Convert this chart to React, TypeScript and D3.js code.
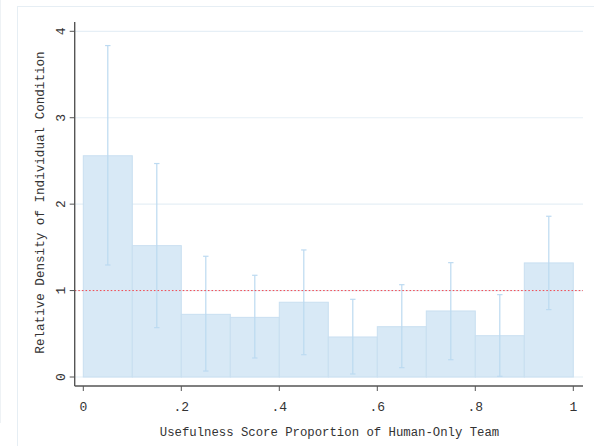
import React from "react";
import * as d3 from "d3";

const binStarts = [0, 0.1, 0.2, 0.3, 0.4, 0.5, 0.6, 0.7, 0.8, 0.9];
const binWidth = 0.1;
const density = [2.56, 1.52, 0.725, 0.69, 0.865, 0.463, 0.582, 0.764, 0.478, 1.32];
const ciHigh = [3.835, 2.47, 1.397, 1.177, 1.47, 0.899, 1.068, 1.323, 0.953, 1.86];
const ciLow = [1.296, 0.571, 0.069, 0.22, 0.258, 0.035, 0.108, 0.2, 0.008, 0.78];
const xTicks = [0, 0.2, 0.4, 0.6, 0.8, 1];
const xTickLabels = ["0", ".2", ".4", ".6", ".8", "1"];
const yTicks = [0, 1, 2, 3, 4];
const refValue = 1;

const W = 594;
const H = 446;
const FONT = "'Liberation Mono', 'DejaVu Sans Mono', monospace";

export default function App() {
  const x = d3.scaleLinear().domain([0, 1]).range([83.3, 573.3]);
  const y = d3.scaleLinear().domain([0, 4]).range([377, 31.3]);
  const axisX = 74.7;
  const axisY = 386;
  const plotRight = 583;

  return (
    <svg
      width={W}
      height={H}
      style={{ position: "absolute", left: 0, top: 0, background: "#fff" }}
    >
      {/* outer frames */}
      <line x1={0.5} y1={0} x2={0.5} y2={423} stroke="#eef2f5" />
      <rect x={17.5} y={6.5} width={W} height={H} fill="none" stroke="#e6eef4" />

      {/* gridlines */}
      {yTicks.map((t) => (
        <line
          key={"g" + t}
          x1={axisX}
          x2={plotRight}
          y1={y(t)}
          y2={y(t)}
          stroke="#e6eff6"
          strokeWidth={1.2}
        />
      ))}

      {/* bars */}
      {binStarts.map((b, i) => (
        <rect
          key={"b" + i}
          x={x(b)}
          y={y(density[i])}
          width={x(b + binWidth) - x(b)}
          height={y(0) - y(density[i])}
          fill="#d8e9f6"
          stroke="#c9dff1"
          strokeWidth={1}
        />
      ))}

      {/* error bars */}
      {binStarts.map((b, i) => {
        const cx = x(b + binWidth / 2);
        return (
          <g key={"e" + i} stroke="#bcdaf1" strokeWidth={1.2}>
            <line x1={cx} x2={cx} y1={y(ciHigh[i])} y2={y(ciLow[i])} />
            <line x1={cx - 2.7} x2={cx + 2.7} y1={y(ciHigh[i])} y2={y(ciHigh[i])} />
            <line x1={cx - 2.7} x2={cx + 2.7} y1={y(ciLow[i])} y2={y(ciLow[i])} />
          </g>
        );
      })}

      {/* reference line */}
      <line
        x1={axisX}
        x2={plotRight}
        y1={y(refValue)}
        y2={y(refValue)}
        stroke="#f0474f"
        strokeWidth={1}
        strokeDasharray="1.6,2"
      />

      {/* axes */}
      <line x1={axisX} x2={axisX} y1={22} y2={axisY} stroke="#555" strokeWidth={1.4} />
      <line x1={axisX} x2={plotRight} y1={axisY} y2={axisY} stroke="#555" strokeWidth={1.4} />

      {yTicks.map((t) => (
        <g key={"yt" + t}>
          <line x1={axisX - 5} x2={axisX} y1={y(t)} y2={y(t)} stroke="#555" strokeWidth={1} />
          <text
            transform={`translate(${axisX - 10},${y(t)}) rotate(-90)`}
            textAnchor="middle"
            fontFamily={FONT}
            fontSize={13}
            fill="#333"
          >
            {t}
          </text>
        </g>
      ))}

      {xTicks.map((t, i) => (
        <g key={"xt" + t}>
          <line x1={x(t)} x2={x(t)} y1={axisY} y2={axisY + 5} stroke="#555" strokeWidth={1} />
          <text
            x={x(t)}
            y={411}
            textAnchor="middle"
            fontFamily={FONT}
            fontSize={13}
            fill="#333"
          >
            {xTickLabels[i]}
          </text>
        </g>
      ))}

      {/* axis titles */}
      <text
        x={329.5}
        y={436}
        textAnchor="middle"
        fontFamily={FONT}
        fontSize={12.3}
        fill="#333"
      >
        Usefulness Score Proportion of Human-Only Team
      </text>
      <text
        transform={`translate(44,202.5) rotate(-90)`}
        textAnchor="middle"
        fontFamily={FONT}
        fontSize={12.6}
        fill="#333"
      >
        Relative Density of Individual Condition
      </text>
    </svg>
  );
}
